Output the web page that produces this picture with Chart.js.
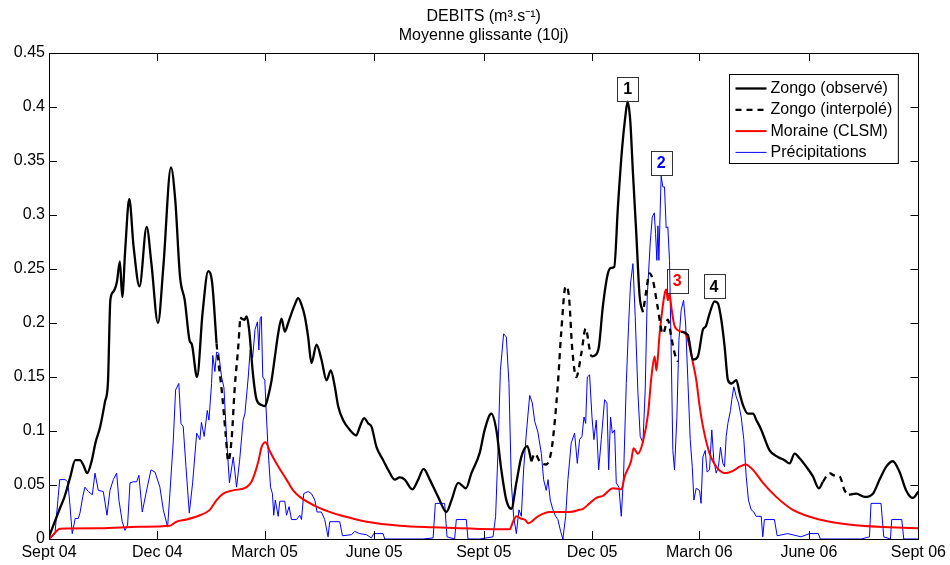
<!DOCTYPE html>
<html>
<head>
<meta charset="utf-8">
<title>DEBITS</title>
<script src="https://cdn.jsdelivr.net/npm/chart.js@4.4.1/dist/chart.umd.min.js"></script>
<style>
  html, body { margin: 0; padding: 0; background: #fff; }
  canvas { display: block; }
</style>
</head>
<body>
<canvas id="debits" width="950" height="565"></canvas>
<script>
// x axis = days since 1 Sept 2004
const tickDays = [0, 91, 181, 273, 365, 456, 546, 638, 730];
const tickLabels = ['Sept 04', 'Dec 04', 'March 05', 'June 05', 'Sept 05', 'Dec 05', 'March 06', 'June 06', 'Sept 06'];

// Zongo observed (null = no measurement)
const obsDays = [0, 9, 13, 18, 22, 26, 29, 32, 36, 39, 43, 47, 49.5, 51.5, 54, 57, 59.5, 61.5, 64, 67.4,
  71, 76, 82, 86, 91.5, 96, 102.4, 106, 110, 114, 118, 120, 124.3, 129, 133.7, 137, 140.7, 150,
  160.5, 164, 166, 168, 171.5, 174.3, 178.5, 181.3, 184, 186.9, 189.7, 192.4, 195.2, 198, 200.8, 203.6,
  206.4, 209.2, 212, 214.8, 217.6, 220.4, 224.6, 228.8, 233, 236.6, 240, 242.8, 247, 252.6, 258, 261,
  264.6, 268, 270.8, 275, 280.6, 284.8, 290.3, 294.5, 298.7, 305, 310, 314.5, 319.7, 326.7, 333.7, 338,
  343.5, 350, 354.7, 361.7, 365.8, 371.4, 375.6, 379.8, 384, 388.2, 392.4, 396.6, 401.6, 405, 430,
  455.3, 458.5, 461.7, 465, 469.3, 472, 474.6, 477.7, 481.3, 483.9, 485.8, 488, 490.3, 493.1, 495.9, 498.7, 515,
  530.8, 536.4, 540.6, 544.8, 549.1, 551.5, 554.7, 558.9, 561.7, 564.5, 567.3, 570.1, 573, 577.1, 579.9,
  582.7, 586.9, 591.1, 594, 598.1, 605, 612, 617.6, 621.8, 626, 630, 635.8, 641.4, 646.4, 649.8, 660,
  671.6, 677.8, 684.8, 691.8, 697.4, 703, 708.5, 714.2, 719.7, 725.3, 730];
const obsFlow = [0.002, 0.028, 0.039, 0.058, 0.073, 0.073, 0.068, 0.061, 0.073, 0.089, 0.104, 0.127, 0.145, 0.221, 0.229, 0.238, 0.257, 0.224, 0.268, 0.315,
  0.271, 0.234, 0.289, 0.255, 0.200, 0.252, 0.344, 0.314, 0.243, 0.221, 0.184, 0.180, 0.150, 0.210, 0.248, 0.237, 0.181, null,
  0.205, 0.203, 0.206, 0.194, 0.150, 0.129, 0.124, 0.123, 0.132, 0.147, 0.169, 0.190, 0.204, 0.192, 0.200, 0.209,
  0.217, 0.223, 0.217, 0.206, 0.187, 0.163, 0.180, 0.166, 0.147, 0.156, 0.141, 0.123, 0.110, 0.101, 0.096, 0.104,
  0.112, 0.107, 0.104, 0.085, 0.073, 0.064, 0.055, 0.057, 0.055, 0.046, 0.055, 0.065, 0.055, 0.039, 0.025, 0.036,
  0.052, 0.047, 0.061, 0.080, 0.101, 0.116, 0.101, 0.064, 0.036, 0.028, 0.052, 0.076, 0.086, 0.072, null,
  0.169, 0.170, 0.178, 0.215, 0.246, 0.251, 0.252, 0.308, 0.363, 0.391, 0.405, 0.388, 0.339, 0.283, 0.225, 0.210, null,
  0.192, 0.189, 0.166, 0.169, 0.194, 0.197, 0.209, 0.220, 0.218, 0.203, 0.178, 0.147, 0.144, 0.147, 0.135,
  0.124, 0.116, 0.116, 0.110, 0.101, 0.082, 0.076, 0.073, 0.070, 0.079, 0.075, 0.067, 0.058, 0.047, 0.053, null,
  0.041, 0.042, 0.039, 0.042, 0.055, 0.067, 0.072, 0.062, 0.045, 0.038, 0.044];

// Zongo interpolated over the gaps
const interpDays = [140.7, 142, 145, 148.5, 150.5, 153.3, 156, 158.9, 160.5, 300,
  405, 408, 412, 417.5, 421.7, 424.5, 427.3, 430, 433.8, 436.6, 439.4, 442.7, 447, 450.6, 454, 455.3, 480,
  499.5, 501.5, 504.3, 507, 511, 515.5, 519.6, 522.5, 525.3, 528.1, 600,
  649.8, 655.4, 659, 663.8, 668, 671.6];
const interpFlow = [0.181, 0.166, 0.138, 0.095, 0.072, 0.092, 0.141, 0.178, 0.205, null,
  0.072, 0.079, 0.072, 0.069, 0.081, 0.107, 0.144, 0.190, 0.234, 0.224, 0.175, 0.150, 0.172, 0.195, 0.175, 0.169, null,
  0.215, 0.230, 0.246, 0.240, 0.215, 0.190, 0.203, 0.187, 0.172, 0.164, null,
  0.053, 0.061, 0.059, 0.058, 0.045, 0.041];

// Moraine, CLSM model
const moraineDays = [0, 3.6, 9.2, 42.8, 76, 101.5, 107, 115.5, 126.7, 135, 140.7, 146.3, 154.7, 165.9, 170, 172.9,
  176, 178.5, 181.8, 185.5, 191, 199.4, 205, 210.6, 224.6, 238.6, 255, 266.6, 294.5, 322.5, 361.7,
  386.8, 389.6, 392.5, 396, 400, 402.2, 410.6, 420.3, 437, 445.5, 448.4, 453.9, 459.6, 465.1, 473.6,
  480.6, 483.4, 488.9, 490.8, 494.5, 498.7, 503, 505.8, 508.5, 510, 512.7, 516.9, 518.3, 519.6, 521,
  522.5, 525.3, 530.8, 535, 537.9, 540.7, 543.5, 546.3, 549.1, 554.7, 561.7, 568.7, 574.3, 579.9, 585,
  591.1, 599.5, 610.6, 624.6, 647, 675, 730];
const moraineFlow = [0, 0.004, 0.0095, 0.0099, 0.0114, 0.0123, 0.016, 0.018, 0.022, 0.027, 0.036, 0.042, 0.045, 0.048, 0.053, 0.061,
  0.073, 0.085, 0.0895, 0.081, 0.070, 0.055, 0.045, 0.039, 0.030, 0.024, 0.019, 0.016, 0.0123, 0.0108, 0.0093,
  0.009, 0.016, 0.021, 0.019, 0.0176, 0.0145, 0.021, 0.025, 0.025, 0.027, 0.028, 0.033, 0.038, 0.040, 0.047,
  0.046, 0.058, 0.073, 0.084, 0.079, 0.090, 0.116, 0.150, 0.169, 0.156, 0.190, 0.227, 0.231, 0.221, 0.227,
  0.215, 0.197, 0.192, 0.189, 0.178, 0.163, 0.147, 0.123, 0.104, 0.079, 0.065, 0.061, 0.063, 0.067, 0.069,
  0.064, 0.052, 0.039, 0.027, 0.018, 0.013, 0.010];

// Precipitations (rescaled to the flow axis)
const precipDays = [0, 5, 7.8, 9, 13.5, 15.7, 17, 19.5, 22, 24.6, 26, 28.3, 30.2, 33, 36.4, 38.6, 41.4, 45.6, 48.7,
  51.2, 54, 56.8, 58.7, 61.5, 63.8, 66, 68, 70.8, 73.6, 75.5, 78.3, 81.4, 85.6, 89, 93.1, 96, 99.6, 101.5,
  104.3, 106.3, 109, 110.8, 112.7, 115, 117.8, 120.6, 124, 126.7, 128, 130.3, 132.9, 134.3, 136.5, 137.5,
  139.3, 140.7, 142.5, 144.9, 146.9, 149, 151.5, 154.7, 157.5, 160, 163, 164.5, 167.3, 168.9, 171, 173,
  175, 176.2, 177.3, 178.3, 179.5, 181.2, 182.6, 184, 186, 187.6, 188.7, 190, 192.4, 193.8, 198, 199.4,
  201.6, 203.6, 207.8, 210.6, 212, 213.9, 217.6, 220.4, 223.2, 225.1, 228.7, 231.5, 234.3, 235.7, 244.1,
  246.4, 253.9, 256.7, 260.9, 266.5, 270.7, 272.7, 280.5, 281.9, 314, 322.5, 324.4, 332.2, 334.2, 340.6,
  342, 350.4, 351.8, 361.6, 372.8, 375, 377, 379, 381.7, 384, 386.2, 388.2, 390.1, 392.4, 394.6, 396.6,
  398.5, 400.8, 403.6, 405.8, 407.8, 410.5, 413.4, 415.3, 417.5, 419, 420.9, 423.1, 425.4, 427.3, 429.6,
  431.5, 433.8, 435.7, 438.5, 441.3, 443.6, 445.5, 447.5, 449.2, 450.6, 452, 453.9, 455.9, 457.5, 459.5,
  461.5, 463.7, 466.5, 468.5, 469.9, 471.5, 473, 474.9, 476.3, 478.5, 480.5, 482.4, 484.7, 486.6, 488.3,
  490.3, 492.2, 494.5, 496.4, 498.7, 500.6, 502.3, 504.8, 506.5, 508.2, 509.3, 510.4, 511.3, 512.1, 513.2,
  514, 515.4, 516.8, 518.2, 519.6, 521, 522.4, 523.8, 525.2, 527.2, 528.9, 530.8, 532.8, 534.5, 536.4,
  538.4, 540.1, 541.5, 543.4, 546.2, 547.5, 549, 551, 552.6, 554.6, 556.5, 558.2, 560.2, 562.1, 563.8,
  565.8, 567.2, 568.6, 570, 572.2, 573.3, 575, 577, 578.9, 581.2, 583.4, 585.4, 587.3, 589.6, 591.8,
  593.7, 598, 599.3, 600.7, 609.1, 611.4, 620.3, 631.5, 638.5, 646, 647.7, 681.9, 688.9, 690.2, 698.6,
  700.9, 706.5, 707.6, 716, 717.7, 730];
const precipVals = [0, 0.005, 0.04, 0.055, 0.055, 0.053, 0.039, 0.005, 0.019, 0.019, 0.024, 0.039, 0.048, 0.044, 0.041, 0.061, 0.045, 0.044, 0.022,
  0.045, 0.055, 0.061, 0.036, 0.016, 0.008, 0.013, 0.052, 0.053, 0.053, 0.059, 0.025, 0.042, 0.064, 0.062, 0.048, 0.027, 0.011, 0.042,
  0.090, 0.138, 0.144, 0.107, 0.104, 0.067, 0.024, 0.052, 0.098, 0.092, 0.108, 0.095, 0.119, 0.110, 0.144, 0.170,
  0.155, 0.173, 0.172, 0.150, 0.140, 0.095, 0.052, 0.076, 0.048, 0.072, 0.110, 0.116, 0.150, 0.175, 0.168, 0.194,
  0.201, 0.175, 0.204, 0.206, 0.150, 0.147, 0.113, 0.082, 0.048, 0.042, 0.022, 0.036, 0.021, 0.035, 0.035, 0.022,
  0.030, 0.018, 0.018, 0.022, 0.018, 0.042, 0.044, 0.042, 0.036, 0.025, 0.025, 0.018, 0.002, 0.016, 0.016,
  0.003, 0.004, 0.007, 0.005, 0.004, 0.001, 0.005, 0.005, 0, 0, 0.001, 0.033, 0.033, 0.002, 0,
  0.018, 0.018, 0, 0, 0.002, 0.021, 0.082, 0.156, 0.190, 0.187, 0.144, 0.052, 0.021, 0.005, 0.027, 0.021,
  0.064, 0.098, 0.133, 0.126, 0.109, 0.099, 0.079, 0.055, 0.045, 0.055, 0.036, 0.027, 0.021, 0.018, 0.007,
  0, 0.021, 0.055, 0.089, 0.098, 0.070, 0.092, 0.095, 0.113, 0.107, 0.150, 0.152, 0.113, 0.092, 0.110,
  0.064, 0.092, 0.129, 0.126, 0.064, 0.113, 0.098, 0.101, 0.052, 0.048, 0.021, 0.058, 0.144, 0.197, 0.237,
  0.255, 0.206, 0.135, 0.095, 0.089, 0.138, 0.224, 0.274, 0.298, 0.302, 0.283, 0.258, 0.290, 0.258, 0.305,
  0.336, 0.326, 0.326, 0.288, 0.289, 0.258, 0.175, 0.082, 0.064, 0.113, 0.184, 0.212, 0.221, 0.200, 0.147,
  0.092, 0.067, 0.036, 0.047, 0.045, 0.033, 0.076, 0.082, 0.062, 0.064, 0.101, 0.073, 0.061, 0.067, 0.085,
  0.070, 0.067, 0.095, 0.107, 0.119, 0.129, 0.141, 0.132, 0.126, 0.113, 0.092, 0.058, 0.036, 0.027, 0.025,
  0.021, 0.021, 0.002, 0.018, 0.018, 0.003, 0.005, 0.002, 0.005, 0.005, 0, 0, 0.002, 0.033, 0.033,
  0.002, 0, 0.018, 0.018, 0, 0];

// numbered event boxes, anchored at their bottom centre
const eventLabels = ['1', '2', '3', '4'];
const eventColors = ['#000000', '#0000ff', '#ff0000', '#000000'];
const eventDays = [485.8, 514, 527.5, 558.4];
const eventFlow = [0.406, 0.337, 0.228, 0.223];

const FONT = '"Liberation Sans", Arial, Helvetica, sans-serif';
Chart.defaults.font.family = FONT;
Chart.defaults.font.size = 16;
Chart.defaults.color = '#000';

const pairs = (xs, ys) => xs.map((d, i) => ({ x: d, y: ys[i] }));

// axes box with inward ticks on all four sides
const boxFrame = {
  id: 'boxFrame',
  afterDatasetsDraw(chart) {
    const { ctx, chartArea: a, scales: { x, y } } = chart;
    ctx.save();
    ctx.strokeStyle = '#000';
    ctx.lineWidth = 1;
    ctx.beginPath();
    x.ticks.forEach(t => {
      const px = Math.round(x.getPixelForValue(t.value)) + 0.5;
      ctx.moveTo(px, a.bottom); ctx.lineTo(px, a.bottom - 8);
      ctx.moveTo(px, a.top); ctx.lineTo(px, a.top + 8);
    });
    y.ticks.forEach(t => {
      const py = Math.round(y.getPixelForValue(t.value)) + 0.5;
      ctx.moveTo(a.left, py); ctx.lineTo(a.left + 8, py);
      ctx.moveTo(a.right, py); ctx.lineTo(a.right - 8, py);
    });
    ctx.stroke();
    ctx.strokeRect(Math.round(a.left) + 0.5, Math.round(a.top) + 0.5,
      Math.round(a.right - a.left), Math.round(a.bottom - a.top));
    ctx.restore();
  }
};

// numbered boxes above the flood peaks
const eventBoxes = {
  id: 'eventBoxes',
  afterDatasetsDraw(chart) {
    const { ctx, scales: { x, y } } = chart;
    ctx.save();
    ctx.font = 'bold 16px ' + FONT;
    ctx.textAlign = 'center';
    ctx.textBaseline = 'middle';
    eventLabels.forEach((lab, i) => {
      const cx = x.getPixelForValue(eventDays[i]);
      const by = y.getPixelForValue(eventFlow[i]);
      const w = 21, h = 24;
      ctx.strokeStyle = '#333';
      ctx.lineWidth = 1;
      ctx.strokeRect(Math.round(cx - w / 2) + 0.5, Math.round(by - h) + 0.5, w, h);
      ctx.fillStyle = eventColors[i];
      ctx.fillText(lab, cx, by - h / 2 + 1);
    });
    ctx.restore();
  }
};

// boxed legend in the upper right corner of the axes
const boxLegend = {
  id: 'boxLegend',
  afterDraw(chart) {
    const { ctx, chartArea: a } = chart;
    const sets = chart.data.datasets;
    ctx.save();
    ctx.font = '16px ' + FONT;
    const textW = Math.max(...sets.map(s => ctx.measureText(s.label).width));
    const w = 6 + 31 + 4 + textW + 6, rowH = 21.3, h = 89;
    const x0 = Math.round(a.right - 21 - w) + 0.5, y0 = Math.round(a.top + 21) + 0.5;
    ctx.fillStyle = '#fff';
    ctx.fillRect(x0, y0, w, h);
    ctx.strokeStyle = '#000';
    ctx.lineWidth = 1;
    ctx.strokeRect(x0, y0, w, h);
    ctx.textBaseline = 'middle';
    sets.forEach((s, i) => {
      const yy = y0 + 14 + i * rowH;
      ctx.beginPath();
      ctx.strokeStyle = s.borderColor;
      ctx.lineWidth = s.borderWidth;
      ctx.setLineDash(s.borderDash || []);
      ctx.moveTo(x0 + 6, yy); ctx.lineTo(x0 + 37, yy);
      ctx.stroke();
      ctx.setLineDash([]);
      ctx.fillStyle = '#000';
      ctx.fillText(s.label, x0 + 41, yy);
    });
    ctx.restore();
  }
};

new Chart(document.getElementById('debits'), {
  type: 'line',
  data: {
    datasets: [
      { label: 'Zongo (observé)', data: pairs(obsDays, obsFlow), borderColor: '#000', borderWidth: 2.3,
        cubicInterpolationMode: 'monotone', spanGaps: false },
      { label: 'Zongo (interpolé)', data: pairs(interpDays, interpFlow), borderColor: '#000', borderWidth: 2.3,
        borderDash: [6, 5], cubicInterpolationMode: 'monotone', spanGaps: false },
      { label: 'Moraine (CLSM)', data: pairs(moraineDays, moraineFlow), borderColor: '#ff0000', borderWidth: 2,
        cubicInterpolationMode: 'monotone' },
      { label: 'Précipitations', data: pairs(precipDays, precipVals), borderColor: '#0000ff', borderWidth: 1,
        tension: 0 }
    ]
  },
  options: {
    responsive: false,
    animation: false,
    devicePixelRatio: 1,
    elements: { point: { radius: 0 } },
    layout: { padding: { left: 0, right: 31, top: 0, bottom: 0 } },
    plugins: {
      legend: { display: false },
      tooltip: { enabled: false },
      title: {
        display: true,
        fullSize: false,
        text: ['DEBITS (m³.s⁻¹)', 'Moyenne glissante (10j)'],
        font: { size: 16, weight: 'normal' },
        color: '#000',
        padding: { top: 7, bottom: 7.6 }
      }
    },
    scales: {
      x: {
        type: 'linear',
        min: 0,
        max: 730,
        grid: { display: false, drawTicks: false },
        border: { display: false },
        afterBuildTicks: s => { s.ticks = tickDays.map(v => ({ value: v })); },
        afterFit: s => { s.height = 26; },
        ticks: { autoSkip: false, maxRotation: 0, padding: 4, callback: (v, i) => tickLabels[i] }
      },
      y: {
        min: 0,
        max: 0.45,
        grid: { display: false, drawTicks: false },
        border: { display: false },
        afterFit: s => { s.width = 49; },
        ticks: { stepSize: 0.05, padding: 4, callback: v => String(+v.toFixed(2)) }
      }
    }
  },
  plugins: [boxFrame, eventBoxes, boxLegend]
});
</script>
</body>
</html>
